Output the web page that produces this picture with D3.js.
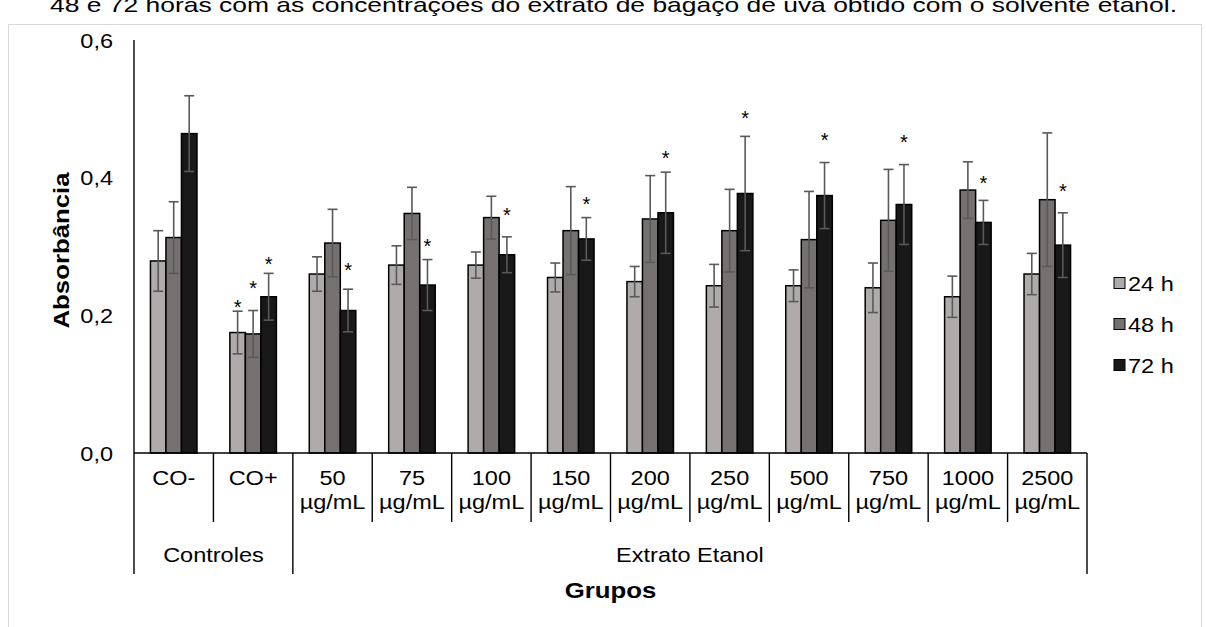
<!DOCTYPE html>
<html>
<head>
<meta charset="utf-8">
<script src="https://cdn.jsdelivr.net/npm/d3@7"></script>
<style>
  body { margin: 0; background: #fff; }
  svg text { font-family: Arial, "Liberation Sans", sans-serif; fill: #000; }
</style>
</head>
<body>
<div id="chart"></div>
<script>
"use strict";

// categories on the x axis (first line / second line)
const categories = ["CO-", "CO+", "50", "75", "100", "150", "200", "250", "500", "750", "1000", "2500"];
const unitLabels = ["", "", "µg/mL", "µg/mL", "µg/mL", "µg/mL", "µg/mL", "µg/mL", "µg/mL", "µg/mL", "µg/mL", "µg/mL"];
const groupNames = ["Controles", "Extrato Etanol"];
const groupSizes = [2, 10];

const seriesNames = ["24 h", "48 h", "72 h"];

// mean absorbance
const h24 = [0.279, 0.175, 0.260, 0.273, 0.273, 0.255, 0.249, 0.243, 0.243, 0.240, 0.227, 0.260];
const h48 = [0.313, 0.173, 0.305, 0.348, 0.342, 0.323, 0.340, 0.323, 0.310, 0.338, 0.382, 0.368];
const h72 = [0.464, 0.227, 0.207, 0.244, 0.288, 0.311, 0.349, 0.377, 0.374, 0.361, 0.335, 0.302];

// standard deviations
const e24 = [0.044, 0.031, 0.025, 0.028, 0.019, 0.021, 0.022, 0.031, 0.023, 0.036, 0.030, 0.030];
const e48 = [0.052, 0.034, 0.049, 0.038, 0.031, 0.064, 0.063, 0.060, 0.070, 0.074, 0.041, 0.097];
const e72 = [0.055, 0.034, 0.031, 0.037, 0.026, 0.031, 0.059, 0.083, 0.048, 0.058, 0.032, 0.047];

// asterisks: [category, series, height in absorbance units]
const stars = [
    ["CO+", "24 h", 0.218], ["CO+", "48 h", 0.246], ["CO+", "72 h", 0.281],
    ["50", "72 h", 0.272], ["75", "72 h", 0.306], ["100", "72 h", 0.351],
    ["150", "72 h", 0.367], ["200", "72 h", 0.434], ["250", "72 h", 0.493],
    ["500", "72 h", 0.461], ["750", "72 h", 0.457], ["1000", "72 h", 0.398],
    ["2500", "72 h", 0.387]
];

const yTicks = [0, 0.2, 0.4, 0.6];

const caption = "48 e 72 horas com as concentrações do extrato de bagaço de uva obtido com o solvente etanol.";


/***** layout *****/
const W = 1206, H = 627,
    plotLeft = 134, plotRight = 1087,
    plotTop = 40, plotBottom = 453,
    sx = 1.12;   // text in the source is slightly stretched sideways

const colors = ["#afabab", "#767171", "#181818"],
    errColor = "#595959";

const values = [h24, h48, h72],
    errors = [e24, e48, e72];

const data = categories.map((c, i) => ({
    cat: c,
    bars: seriesNames.map((s, j) => ({ s: s, v: values[j][i], e: errors[j][i], color: colors[j] }))
}));

const x = d3.scaleBand().domain(categories).range([plotLeft, plotRight]).paddingInner(0).paddingOuter(0);
const xIn = d3.scaleBand().domain(seriesNames).range([0, x.bandwidth()]).paddingInner(0).paddingOuter(1.06);
const y = d3.scaleLinear().domain([0, 0.6]).range([plotBottom, plotTop]);

const ptBR = d3.formatLocale({ decimal: ",", thousands: ".", grouping: [3], currency: ["R$", ""] });
const fmt = ptBR.format(".1f");

const svg = d3.select("#chart").append("svg")
    .attr("width", W)
    .attr("height", H);

function label(parent, px, py, str, anchor, size, weight) {
    return parent.append("text")
        .attr("transform", `translate(${px},${py}) scale(${sx},1)`)
        .attr("text-anchor", anchor || "middle")
        .style("font-size", (size || 21) + "px")
        .style("font-weight", weight || "normal")
        .text(str);
}

// caption of the figure, cut at the top of the page
svg.append("text")
    .attr("x", 50)
    .attr("y", 12)
    .attr("textLength", 1127)
    .attr("lengthAdjust", "spacingAndGlyphs")
    .style("font-size", "21px")
    .text(caption);

// chart frame
svg.append("rect")
    .attr("x", 8.5).attr("y", 24.5)
    .attr("width", 1193).attr("height", 640)
    .attr("fill", "none")
    .attr("stroke", "#d9d9d9")
    .attr("stroke-width", 1);

/***** bars *****/
const cat = svg.append("g").selectAll("g")
    .data(data)
    .enter()
    .append("g")
    .attr("transform", d => `translate(${x(d.cat)},0)`);

cat.selectAll("rect")
    .data(d => d.bars)
    .enter()
    .append("rect")
    .attr("x", d => xIn(d.s))
    .attr("y", d => y(d.v))
    .attr("width", xIn.bandwidth())
    .attr("height", d => y(0) - y(d.v))
    .attr("fill", d => d.color)
    .attr("stroke", "#000")
    .attr("stroke-width", 1.5);

// error bars
const err = cat.selectAll("g.err")
    .data(d => d.bars)
    .enter()
    .append("g")
    .attr("class", "err")
    .attr("stroke", errColor)
    .attr("stroke-width", 1.6);

err.append("line")
    .attr("x1", d => xIn(d.s) + xIn.bandwidth() / 2)
    .attr("x2", d => xIn(d.s) + xIn.bandwidth() / 2)
    .attr("y1", d => y(d.v - d.e))
    .attr("y2", d => y(d.v + d.e));

err.selectAll("line.cap")
    .data(d => [d.v - d.e, d.v + d.e].map(v => ({ s: d.s, v: v })))
    .enter()
    .append("line")
    .attr("class", "cap")
    .attr("x1", d => xIn(d.s) + xIn.bandwidth() / 2 - 5)
    .attr("x2", d => xIn(d.s) + xIn.bandwidth() / 2 + 5)
    .attr("y1", d => y(d.v))
    .attr("y2", d => y(d.v));

// asterisks
svg.append("g").selectAll("text")
    .data(stars)
    .enter()
    .append("text")
    .attr("x", d => x(d[0]) + xIn(d[1]) + xIn.bandwidth() / 2)
    .attr("y", d => y(d[2]) + 11)
    .attr("text-anchor", "middle")
    .style("font-size", "20px")
    .text("*");

/***** axes *****/
const yAxis = svg.append("g");
yAxis.append("line")
    .attr("x1", plotLeft).attr("x2", plotLeft)
    .attr("y1", y(0.6)).attr("y2", y(0))
    .attr("stroke", "#000").attr("stroke-width", 1.4);

yTicks.forEach(t => label(yAxis, 113, y(t) + 7.5, fmt(t), "end"));

const xAxis = svg.append("g").attr("stroke", "#000").attr("stroke-width", 1.4);
xAxis.append("line")
    .attr("x1", plotLeft).attr("x2", plotRight)
    .attr("y1", y(0)).attr("y2", y(0));

// category dividers (long ones mark group edges)
let groupEdges = [0];
groupSizes.reduce((acc, n) => { groupEdges.push(acc + n); return acc + n; }, 0);

d3.range(categories.length + 1).forEach(i => {
    let px = plotLeft + i * x.step();
    xAxis.append("line")
        .attr("x1", px).attr("x2", px)
        .attr("y1", y(0))
        .attr("y2", groupEdges.includes(i) ? 574 : 522);
});

const xLab = svg.append("g");
categories.forEach((c, i) => {
    let cx = x(c) + x.bandwidth() / 2;
    label(xLab, cx, 485, c);
    if (unitLabels[i]) label(xLab, cx, 509, unitLabels[i]);
});

groupNames.forEach((g, i) => {
    let a = plotLeft + groupEdges[i] * x.step(),
        b = plotLeft + groupEdges[i + 1] * x.step();
    label(xLab, (a + b) / 2, 562, g);
});

label(svg, (plotLeft + plotRight) / 2, 598, "Grupos", "middle", 23, "bold");

svg.append("text")
    .attr("transform", `translate(69,${(plotTop + plotBottom) / 2 + 4}) rotate(-90) scale(1.12,1)`)
    .attr("text-anchor", "middle")
    .style("font-size", "23px")
    .style("font-weight", "bold")
    .text("Absorbância");

/***** legend *****/
const legend = svg.append("g").selectAll("g")
    .data(seriesNames)
    .enter()
    .append("g")
    .attr("transform", (d, i) => `translate(1114,${283 + i * 41})`);

legend.append("rect")
    .attr("x", 0).attr("y", -5.5)
    .attr("width", 11).attr("height", 11)
    .attr("fill", (d, i) => colors[i])
    .attr("stroke", "#000")
    .attr("stroke-width", 1);

legend.each(function(d) {
    label(d3.select(this), 14, 7.5, d, "start");
});
</script>
</body>
</html>
